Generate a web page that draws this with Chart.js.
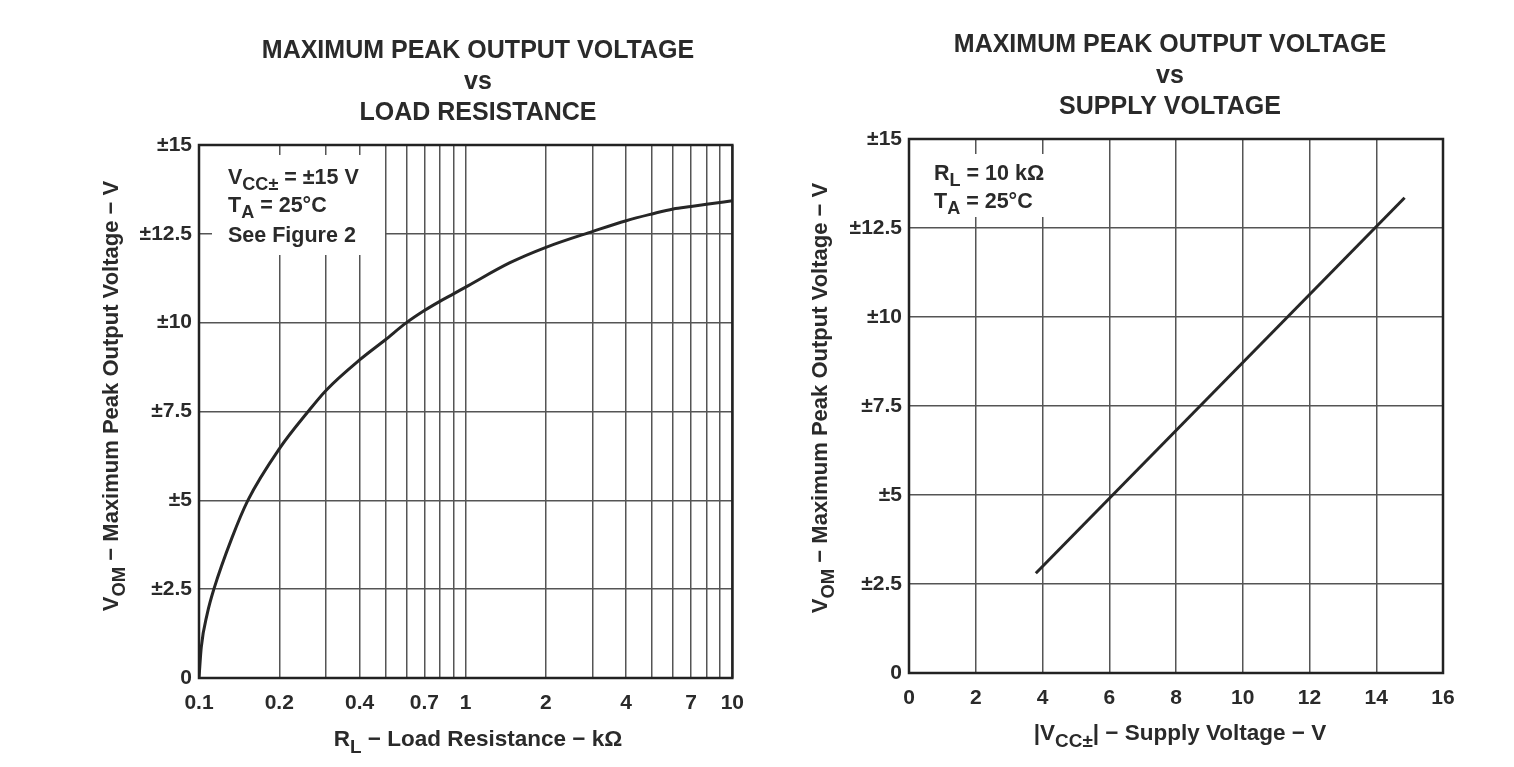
<!DOCTYPE html>
<html>
<head>
<meta charset="utf-8">
<script src="https://cdn.jsdelivr.net/npm/chart.js@4/dist/chart.umd.min.js"></script>
<style>
  body { margin: 0; background: #fff; }
  canvas { position: absolute; top: 0; }
  #loadChart { left: 0; }
  #supplyChart { left: 757px; }
</style>
</head>
<body>
<canvas id="loadChart" width="757" height="767"></canvas>
<canvas id="supplyChart" width="757" height="767"></canvas>
<script>
// load resistance curve (kOhm) and peak output voltage (V)
const loadRes = [0.1, 0.102, 0.1074, 0.1137, 0.133, 0.1525, 0.2, 0.2566, 0.3, 0.4, 0.5, 0.6, 0.7, 0.8, 0.9, 1, 1.46, 2, 3, 4, 5, 6, 7, 8, 10];
const vomLoad = [0, 0.87, 1.81, 2.5, 3.95, 5.0, 6.45, 7.5, 8.1, 8.95, 9.52, 10.0, 10.34, 10.6, 10.81, 11.0, 11.68, 12.12, 12.57, 12.87, 13.06, 13.2, 13.27, 13.33, 13.43];
// supply voltage line
const supplyV = [3.8, 14.85];
const vomSupply = [2.8, 13.35];
// axis ticks
const logGrid = [0.1, 0.2, 0.3, 0.4, 0.5, 0.6, 0.7, 0.8, 0.9, 1, 2, 3, 4, 5, 6, 7, 8, 9, 10];
const logLabels = [0.1, 0.2, 0.4, 0.7, 1, 2, 4, 7, 10];
const vomTicks = [0, 2.5, 5, 7.5, 10, 12.5, 15];

const FONT = "'Liberation Sans', Arial, sans-serif";
const TXT = '#2a2a2a';

function drawRich(ctx, parts, x, y, size, align) {
    const widths = parts.map(p => {
        ctx.font = 'bold ' + (p.sub ? size * 0.84 : size) + 'px ' + FONT;
        return ctx.measureText(p.t).width;
    });
    const total = widths.reduce((a, b) => a + b, 0);
    let cx = align === 'center' ? x - total / 2 : x;
    ctx.textBaseline = 'alphabetic';
    ctx.textAlign = 'left';
    parts.forEach((p, i) => {
        ctx.font = 'bold ' + (p.sub ? size * 0.84 : size) + 'px ' + FONT;
        ctx.fillText(p.t, cx, y + (p.sub ? size * 0.3 : 0));
        cx += widths[i];
    });
}

function makePlugin(cfg) {
    return {
        id: 'deco',
        beforeDatasetsDraw(chart) {
            const c = chart.ctx;
            c.save();
            c.fillStyle = '#fff';
            const b = cfg.box;
            c.fillRect(b[0], b[1], b[2], b[3]);
            c.restore();
        },
        afterDraw(chart) {
            const c = chart.ctx;
            const a = chart.chartArea;
            c.save();
            c.strokeStyle = '#222';
            c.lineWidth = 2.5;
            c.strokeRect(a.left, a.top, a.right - a.left, a.bottom - a.top);
            c.fillStyle = TXT;
            cfg.title.forEach((t, i) => {
                c.font = 'bold 25px ' + FONT;
                c.textAlign = 'center';
                c.textBaseline = 'middle';
                c.fillText(t, cfg.titleX, cfg.titleY + i * 31);
            });
            cfg.notes.forEach(n => drawRich(c, n.parts, n.x, n.y, 21.5, 'left'));
            drawRich(c, cfg.xTitle, cfg.xTitleX, cfg.xTitleY, 22.5, 'center');
            c.translate(cfg.yTitleX, cfg.yTitleY);
            c.rotate(-Math.PI / 2);
            drawRich(c, cfg.yTitle, 0, 0, 22, 'center');
            c.restore();
        }
    };
}

const yTitle = [{t: 'V'}, {t: 'OM', sub: true}, {t: ' \u2212 Maximum Peak Output Voltage \u2212 V'}];

function yScale(width) {
    return {
        type: 'linear', min: 0, max: 15,
        afterBuildTicks: s => { s.ticks = vomTicks.map(v => ({value: v})); },
        afterFit: s => { s.width = width; },
        grid: {color: '#555', lineWidth: 1.5, drawTicks: false},
        border: {display: false},
        ticks: {
            padding: 7, color: TXT,
            font: {family: FONT, size: 21, weight: 'bold'},
            callback: v => v === 0 ? '0' : '\u00b1' + v
        }
    };
}

new Chart(document.getElementById('loadChart'), {
    type: 'line',
    data: {
        datasets: [{
            data: loadRes.map((r, i) => ({x: r, y: vomLoad[i]})),
            borderColor: '#262626', borderWidth: 3, pointRadius: 0,
            cubicInterpolationMode: 'monotone', fill: false
        }]
    },
    options: {
        responsive: false, animation: false,
        layout: {padding: {top: 145, right: 20, left: 0, bottom: 0}},
        plugins: {legend: {display: false}, tooltip: {enabled: false}},
        scales: {
            x: {
                type: 'logarithmic', min: 0.1, max: 10,
                afterBuildTicks: s => { s.ticks = logGrid.map(v => ({value: v})); },
                afterFit: s => { s.height = 89; },
                grid: {color: '#555', lineWidth: 1.5, drawTicks: false},
                border: {display: false},
                ticks: {
                    padding: 13, color: TXT, autoSkip: false, maxRotation: 0,
                    font: {family: FONT, size: 21, weight: 'bold'},
                    callback: v => logLabels.includes(v) ? String(v) : ''
                }
            },
            y: yScale(199)
        }
    },
    plugins: [makePlugin({
        box: [212, 155, 173, 100],
        title: ['MAXIMUM PEAK OUTPUT VOLTAGE', 'vs', 'LOAD RESISTANCE'],
        titleX: 478, titleY: 51,
        notes: [
            {x: 228, y: 184, parts: [{t: 'V'}, {t: 'CC\u00b1', sub: true}, {t: ' = \u00b115 V'}]},
            {x: 228, y: 212, parts: [{t: 'T'}, {t: 'A', sub: true}, {t: ' = 25\u00b0C'}]},
            {x: 228, y: 242, parts: [{t: 'See Figure 2'}]}
        ],
        xTitle: [{t: 'R'}, {t: 'L', sub: true}, {t: ' \u2212 Load Resistance \u2212 k\u03a9'}],
        xTitleX: 478, xTitleY: 746,
        yTitleX: 118, yTitleY: 396, yTitle: yTitle
    })]
});

new Chart(document.getElementById('supplyChart'), {
    type: 'line',
    data: {
        datasets: [{
            data: supplyV.map((v, i) => ({x: v, y: vomSupply[i]})),
            borderColor: '#262626', borderWidth: 3, pointRadius: 0, fill: false
        }]
    },
    options: {
        responsive: false, animation: false,
        layout: {padding: {top: 139, right: 71, left: 0, bottom: 0}},
        plugins: {legend: {display: false}, tooltip: {enabled: false}},
        scales: {
            x: {
                type: 'linear', min: 0, max: 16,
                afterFit: s => { s.height = 94; },
                grid: {color: '#555', lineWidth: 1.5, drawTicks: false},
                border: {display: false},
                ticks: {
                    stepSize: 2, padding: 13, color: TXT, maxRotation: 0,
                    font: {family: FONT, size: 21, weight: 'bold'}
                }
            },
            y: yScale(152)
        }
    },
    plugins: [makePlugin({
        box: [163, 154, 140, 63],
        title: ['MAXIMUM PEAK OUTPUT VOLTAGE', 'vs', 'SUPPLY VOLTAGE'],
        titleX: 413, titleY: 45,
        notes: [
            {x: 177, y: 180, parts: [{t: 'R'}, {t: 'L', sub: true}, {t: ' = 10 k\u03a9'}]},
            {x: 177, y: 208, parts: [{t: 'T'}, {t: 'A', sub: true}, {t: ' = 25\u00b0C'}]}
        ],
        xTitle: [{t: '|V'}, {t: 'CC\u00b1', sub: true}, {t: '| \u2212 Supply Voltage \u2212 V'}],
        xTitleX: 423, xTitleY: 740,
        yTitleX: 70, yTitleY: 398, yTitle: yTitle
    })]
});
</script>
</body>
</html>
